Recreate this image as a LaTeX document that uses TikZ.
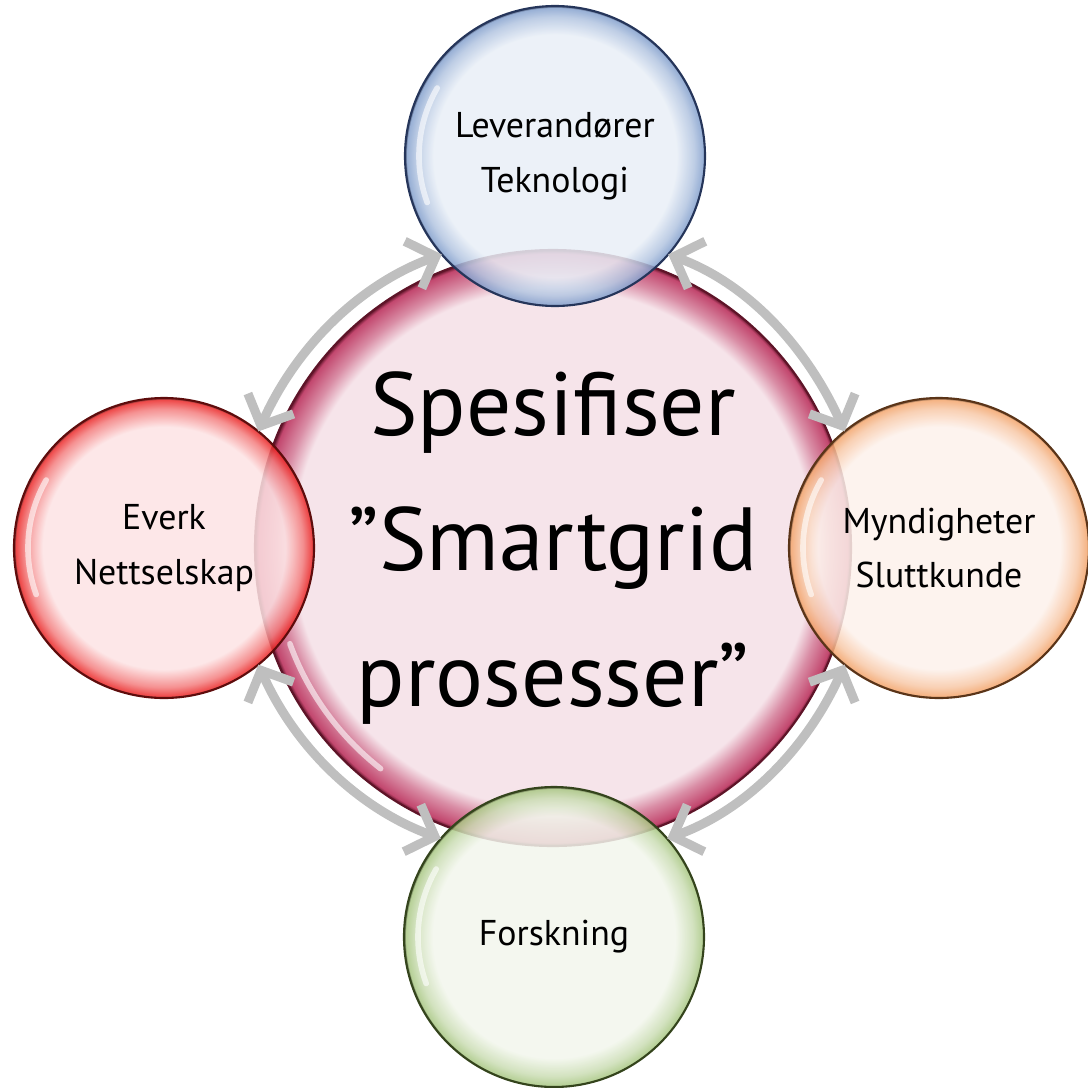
\documentclass[tikz,border=0pt]{standalone}
\usepackage{fontspec}
\setmainfont{PT Sans}
\usetikzlibrary{arrows.meta}
\usepackage{xcolor}

\definecolor{hubpale}{HTML}{F6E4EA}
\definecolor{hubrim}{HTML}{C2476E}
\definecolor{hubdark}{HTML}{5E1428}
\definecolor{levpale}{HTML}{E9EFF7}
\definecolor{levrim}{HTML}{86A2CE}
\definecolor{levdark}{HTML}{25355A}
\definecolor{evkpale}{HTML}{FDE3E4}
\definecolor{evkrim}{HTML}{EB2A2A}
\definecolor{evkdark}{HTML}{5E0C0C}
\definecolor{mynpale}{HTML}{FDF1EB}
\definecolor{mynrim}{HTML}{F3A66E}
\definecolor{myndark}{HTML}{5A3418}
\definecolor{forpale}{HTML}{F2F6EC}
\definecolor{forrim}{HTML}{AAC885}
\definecolor{fordark}{HTML}{34441C}
\definecolor{linkgray}{HTML}{BFBFBF}

% glossy bubble, edge of circle at 25bp, #2 = where the rim starts
\newcommand\bubbleshading[2]{%
  \pgfdeclareradialshading{#1bubble}{\pgfpoint{0bp}{0bp}}{%
    color(0bp)=(#1pale); color(#2bp)=(#1pale);
    color(23.2bp)=(#1pale!45!#1rim); color(24.7bp)=(#1rim);
    color(25bp)=(#1dark); color(50bp)=(#1dark)}}
\bubbleshading{hub}{21.8}
\bubbleshading{lev}{20.2}
\bubbleshading{evk}{20.2}
\bubbleshading{myn}{20.2}
\bubbleshading{for}{20.2}

\begin{document}
\begin{tikzpicture}[
    bubble/.style={circle, draw=#1dark, line width=0.6pt, shading=#1bubble,
      minimum size=3cm, inner sep=0pt, outer sep=0pt, align=center,
      fill opacity=0.85, text opacity=1,
      font=\fontsize{10.2}{15.6}\selectfont},
    link/.style={draw=linkgray, line width=2.6pt, line cap=round, looseness=0.9,
      {Straight Barb[length=2.4mm,width=5mm]}-{Straight Barb[length=2.4mm,width=5mm]}},
    gloss/.style={white, line width=1.6pt, line cap=round, opacity=0.6}]
  \useasboundingbox (0,0) rectangle (10.88,-10.88);
  % centre
  \node[bubble=hub, minimum size=5.96cm, fill opacity=1,
    font=\fontsize{25.5}{38.5}\selectfont] (hub) at (5.53,-5.48)
    {Spesifiser\\”Smartgrid\\prosesser”};
  \draw[gloss] ([shift={(200:2.8)}]hub.center) arc[start angle=200, end angle=232, radius=2.8];
  % partners
  \node[bubble=lev] (lev) at (5.55,-1.56) {Leverandører\\Teknologi};
  \node[bubble=evk] (evk) at (1.64,-5.48) {Everk\\Nettselskap};
  \node[bubble=myn] (myn) at (9.39,-5.48) {Myndigheter\\Sluttkunde};
  \node[bubble=for] (fors) at (5.54,-9.37) {Forskning};
  \foreach \n in {lev,evk,myn,fors}
    \draw[gloss] ([shift={(150:1.36)}]\n.center) arc[start angle=150, end angle=200, radius=1.36];
  % arrows round the centre
  \draw[link] (evk.51) to[out=66, in=200] (lev.221);
  \draw[link] (lev.-41) to[out=-20, in=114] (myn.129);
  \draw[link] (myn.-129) to[out=-114, in=20] (fors.41);
  \draw[link] (evk.-51) to[out=-66, in=160] (fors.139);
\end{tikzpicture}
\end{document}
